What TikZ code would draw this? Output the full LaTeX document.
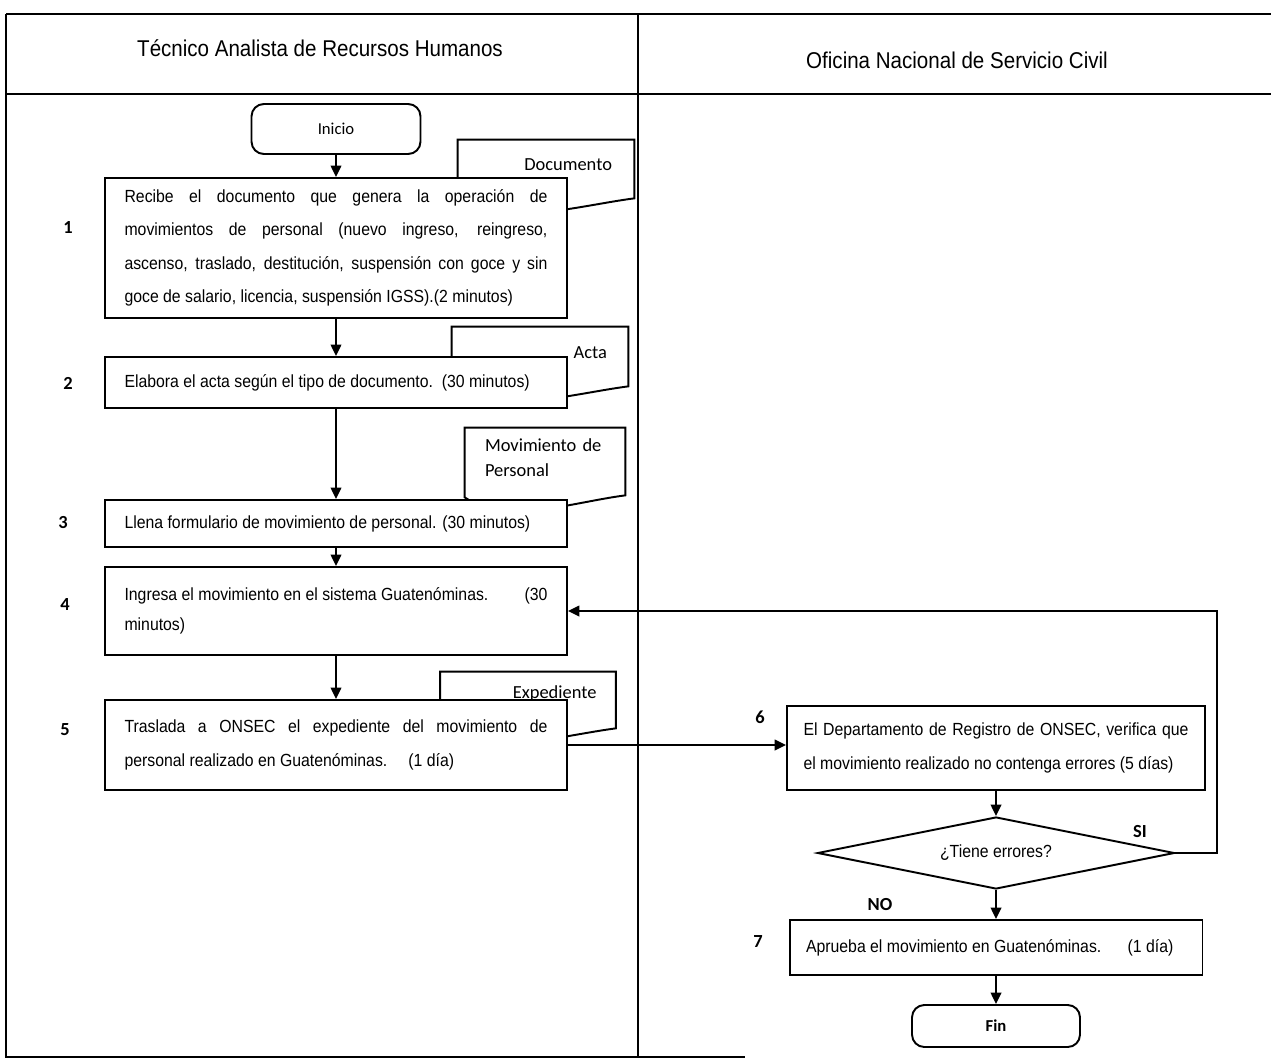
\documentclass[tikz,border=0pt]{standalone}
\usepackage{fontspec}
\setmainfont{Liberation Sans}[FakeStretch=0.9]
\newfontfamily\calib{Carlito}
\usetikzlibrary{arrows.meta,shapes.geometric}

\begin{document}
\begin{tikzpicture}[
    x=0.02cm, y=-0.02cm,
    >={Triangle[length=6.5pt,width=6pt]},
    line/.style     = {line width=1.1pt},
    frame/.style    = {line width=0.9pt},
    proc/.style     = {draw, line width=1.1pt, fill=white, inner sep=0pt,
                       minimum width=9.24cm, text width=8.46cm,
                       align=justify, font=\fontsize{10}{19}\selectfont},
    term/.style     = {draw, line width=1.1pt, fill=white, rounded corners=7pt,
                       font=\calib\fontsize{9.5}{11}\selectfont},
    doc/.style      = {inner sep=0pt, font=\calib\fontsize{10.5}{14}\selectfont},
    decision/.style = {draw, diamond, aspect=5, line width=1.1pt, fill=white, inner sep=0pt,
                       font=\fontsize{10}{12}\selectfont},
    num/.style      = {font=\calib\bfseries\fontsize{10.5}{12}\selectfont},
    lane/.style     = {font=\fontsize{13}{16}\selectfont}
]
\useasboundingbox (0,0) rectangle (1271,1061);

% Swimlane frame and headers
\draw[frame] (6,14) -- (1271,14);
\draw[frame] (6,94) -- (1271,94);
\draw[frame] (6,14) -- (6,1057) -- (745,1057);
\draw[frame] (638,14) -- (638,1057);
\node[lane] (laneA) at (320,48) {Técnico Analista de Recursos Humanos};
\node[lane] (laneB) at (957,60) {Oficina Nacional de Servicio Civil};

% Documents (drawn first, the process boxes cover their lower part)
\node[doc, minimum width=3.52cm, minimum height=1.0cm, text width=2.64cm, align=right]
    (dDoc) at (546,165) {Documento};
\node[doc, minimum width=3.52cm, minimum height=1.02cm, text width=2.68cm, align=right]
    (dActa) at (540,352.5) {Acta};
\node[doc, minimum width=3.2cm, minimum height=1.18cm, text width=2.4cm, align=left]
    (dMov) at (545,457.5) {Movimiento de\\Personal};
\node[doc, minimum width=3.5cm, minimum height=0.96cm, text width=2.74cm, align=right]
    (dExp) at (528,696) {\raisebox{4.5pt}{Expediente}};
\foreach \d in {dDoc, dActa, dMov, dExp}
    \draw[line] (\d.north west) -- (\d.north east) -- ([shift={(0,8)}]\d.south east)
        .. controls +(-54,7) and +(42,28) .. ([shift={(0,10)}]\d.south west) -- cycle;

% Left lane: process steps
\node[term, minimum width=3.38cm, minimum height=1cm] (start) at (336,129) {Inicio};
\node[proc, minimum height=2.8cm] (p1) at (336,248)
    {Recibe el documento que genera la operación de\linebreak
     movimientos de personal (nuevo ingreso, reingreso,\linebreak
     ascenso, traslado, destitución, suspensión con goce y sin\linebreak
     goce de salario, licencia, suspensión IGSS).(2 minutos)};
\node[proc, minimum height=1.02cm] (p2) at (336,382.5)
    {Elabora el acta según el tipo de documento.\ \ (30 minutos)};
\node[proc, minimum height=0.94cm] (p3) at (336,523.5)
    {Llena formulario de movimiento de personal. (30 minutos)};
\node[proc, minimum height=1.76cm, font=\fontsize{10}{17}\selectfont] (p4) at (336,611)
    {Ingresa el movimiento en el sistema Guatenóminas.\hfill(30\linebreak minutos)};
\node[proc, minimum height=1.8cm] (p5) at (336,745)
    {Traslada a ONSEC el expediente del movimiento de\linebreak
     personal realizado en Guatenóminas.\hspace{1.2em}(1 día)};

% Right lane: review and approval
\node[proc, minimum width=8.36cm, text width=7.7cm, minimum height=1.68cm] (p6) at (996,748)
    {El Departamento de Registro de ONSEC, verifica que\linebreak
     el movimiento realizado no contenga errores (5 días)};
\node[decision, minimum width=7.14cm, minimum height=1.44cm] (dErr) at (996,853) {¿Tiene errores?};
\node[proc, minimum width=8.26cm, text width=7.6cm, minimum height=1.1cm] (p7) at (996,947.5)
    {Aprueba el movimiento en Guatenóminas.\hspace{1.5em}(1 día)};
\node[term, minimum width=3.36cm, minimum height=0.84cm, font=\calib\bfseries\fontsize{9.5}{11}\selectfont]
    (stop) at (996,1026) {Fin};

% Step numbers and branch labels
\foreach \n/\x/\y in {1/68/228, 2/68/383, 3/63/523, 4/65/605, 5/65/730, 6/760/717, 7/758/942}
    \node[num] (n\n) at (\x,\y) {\n};
\node[num] (si) at (1140,832) {SI};
\node[num] (no) at (880,905) {NO};

% Connectors
\draw[->, line] (start.south) -- (p1.north);
\foreach \a/\b in {p1/p2, p2/p3, p3/p4, p4/p5}
    \draw[->, line] (\a.south) -- (\b.north);
\draw[->, line] (p5.east) -- (p5.east -| p6.west);
\draw[->, line] (p6.south) -- (dErr.north);
\draw[->, line] (dErr.south) -- (p7.north);
\draw[->, line] (p7.south) -- (stop.north);
\draw[->, line] (dErr.east) -- ++(42,0) |- (p4.east);

\end{tikzpicture}
\end{document}
